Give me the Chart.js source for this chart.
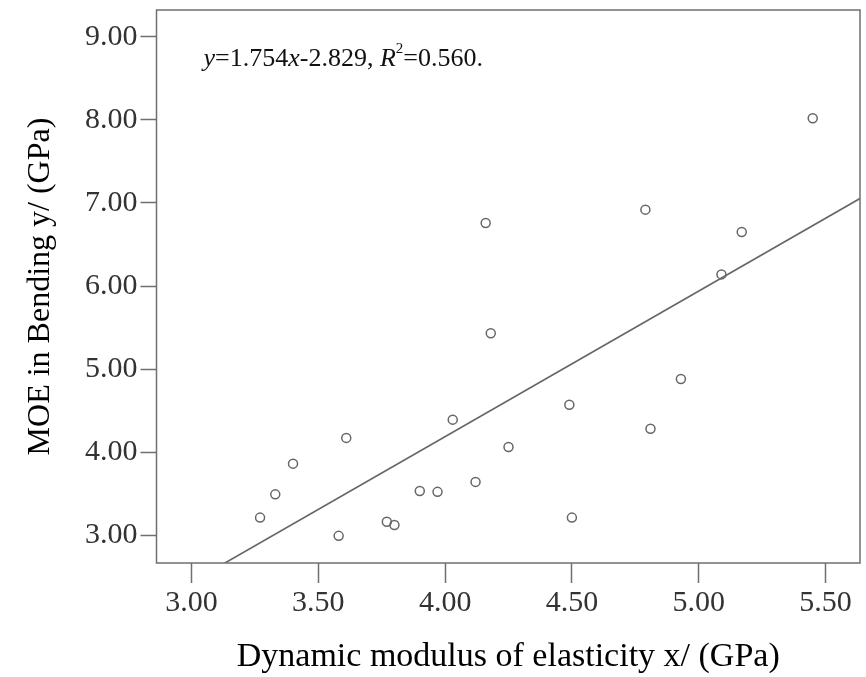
<!DOCTYPE html>
<html lang="en">
<head>
    <meta charset="utf-8">
    <title>MOE in Bending vs Dynamic modulus</title>
    <style>
        body { margin: 0; background: #fff; }
    </style>
</head>
<body>
    <canvas id="myChart" width="866" height="677"></canvas>
    <script src="https://cdn.jsdelivr.net/npm/chart.js"></script>
    <script>
        // dynamic modulus of elasticity x (GPa)
        const dynMoe = [3.27, 3.33, 3.40, 3.61, 3.58, 3.77, 3.80, 3.90, 3.97, 4.03, 4.12,
                        4.25, 4.16, 4.18, 4.49, 4.50, 4.79, 4.81, 4.93, 5.09, 5.17, 5.45]
        // MOE in bending y (GPa)
        const moeBend = [3.21, 3.49, 3.86, 4.17, 2.99, 3.16, 3.12, 3.53, 3.52, 4.39, 3.64,
                         4.06, 6.76, 5.43, 4.57, 3.21, 6.92, 4.28, 4.88, 6.14, 6.65, 8.02]
        // fitted line end points
        const fitX = [3.13, 5.64]
        const fitY = [2.66, 7.06]

        const xTicks = [3.00, 3.50, 4.00, 4.50, 5.00, 5.50]
        const yTicks = [3.00, 4.00, 5.00, 6.00, 7.00, 8.00, 9.00]

        const equation = [
            {t: 'y', italic: true},
            {t: '=1.754'},
            {t: 'x', italic: true},
            {t: '-2.829, '},
            {t: 'R', italic: true},
            {t: '2', sup: true},
            {t: '=0.560.'}
        ]

        const toPoints = (xs, ys) => xs.map((x, i) => ({x: x, y: ys[i]}))

        const frameColor = '#6f6f6f'
        const serif = "'Liberation Serif', 'Times New Roman', serif"

        // box around the plot area + regression text
        const framePlugin = {
            id: 'frame',
            afterDraw(chart) {
                const {ctx, chartArea} = chart
                ctx.save()
                ctx.strokeStyle = frameColor
                ctx.lineWidth = 1.5
                ctx.strokeRect(chartArea.left, chartArea.top,
                    chartArea.right - chartArea.left, chartArea.bottom - chartArea.top)

                let x = chartArea.left + 47
                const y = chartArea.top + 49
                ctx.fillStyle = '#111'
                ctx.textBaseline = 'middle'
                equation.forEach(p => {
                    let size = p.sup ? 15 : 26
                    ctx.font = (p.italic ? 'italic ' : '') + size + 'px ' + serif
                    ctx.fillText(p.t, x, p.sup ? y - 10 : y)
                    x += ctx.measureText(p.t).width
                })
                ctx.restore()
            }
        }

        const ctx = document.getElementById('myChart').getContext('2d')
        const myChart = new Chart(ctx, {
            type: 'scatter',
            data: {
                datasets: [
                    {
                        label: 'samples',
                        data: toPoints(dynMoe, moeBend),
                        pointStyle: 'circle',
                        pointRadius: 4.5,
                        pointBorderWidth: 1.5,
                        borderColor: '#666',
                        backgroundColor: 'rgba(255,255,255,0)',
                        order: 1
                    },
                    {
                        label: 'fit',
                        type: 'line',
                        data: toPoints(fitX, fitY),
                        borderColor: '#666',
                        borderWidth: 1.6,
                        pointRadius: 0,
                        fill: false,
                        order: 2
                    }
                ]
            },
            options: {
                responsive: false,
                animation: false,
                layout: {
                    padding: {top: 10, right: 4, left: 0, bottom: 0}
                },
                plugins: {
                    legend: {display: false},
                    tooltip: {enabled: false}
                },
                scales: {
                    x: {
                        type: 'linear',
                        min: 2.8615,
                        max: 5.6365,
                        afterBuildTicks: scale => {
                            scale.ticks = xTicks.map(v => ({value: v}))
                        },
                        afterFit: scale => {
                            scale.height = 114
                            scale.paddingLeft = 0
                            scale.paddingRight = 0
                        },
                        grid: {
                            drawOnChartArea: false,
                            drawTicks: true,
                            tickLength: 20,
                            tickWidth: 1.5,
                            color: frameColor
                        },
                        border: {display: false},
                        ticks: {
                            padding: 2,
                            color: '#333',
                            font: {family: serif, size: 30},
                            callback: v => Number(v).toFixed(2)
                        },
                        title: {
                            display: true,
                            text: 'Dynamic modulus of elasticity x/ (GPa)',
                            color: '#000',
                            font: {family: serif, size: 34},
                            padding: {top: 0, bottom: 0}
                        }
                    },
                    y: {
                        type: 'linear',
                        min: 2.663,
                        max: 9.325,
                        afterBuildTicks: scale => {
                            scale.ticks = yTicks.map(v => ({value: v}))
                        },
                        afterFit: scale => {
                            scale.width = 156.5
                            scale.paddingTop = 0
                            scale.paddingBottom = 0
                        },
                        grid: {
                            drawOnChartArea: false,
                            drawTicks: true,
                            tickLength: 16,
                            tickWidth: 1.5,
                            color: frameColor
                        },
                        border: {display: false},
                        ticks: {
                            padding: 3,
                            color: '#333',
                            font: {family: serif, size: 30},
                            callback: v => Number(v).toFixed(2)
                        },
                        title: {
                            display: true,
                            text: 'MOE in Bending y/ (GPa)',
                            color: '#000',
                            font: {family: serif, size: 32},
                            padding: {top: 21, bottom: 0}
                        }
                    }
                }
            },
            plugins: [framePlugin]
        });
    </script>
</body>
</html>
